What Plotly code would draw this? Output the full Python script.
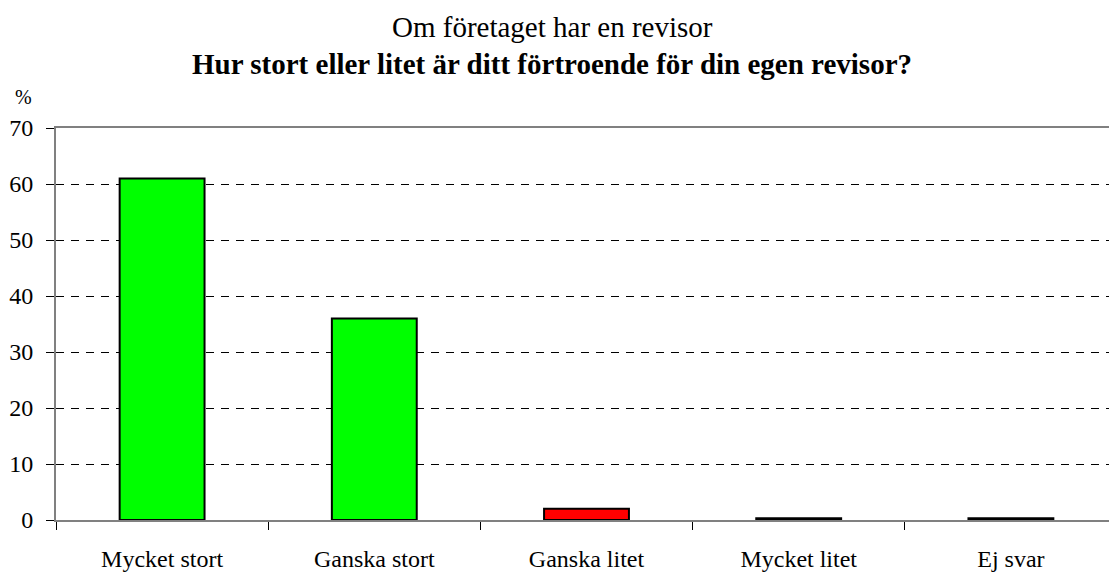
import plotly.graph_objects as go

categories = ["Mycket stort", "Ganska stort", "Ganska litet", "Mycket litet", "Ej svar"]
values = [61, 36, 2, 0.3, 0.3]
colors = ["#00ff00", "#00ff00", "#ff0000", "#ff0000", "#c0c0c0"]
yticks = [0, 10, 20, 30, 40, 50, 60, 70]

font_family = "Liberation Serif, Times New Roman, serif"

# page has an 8px body margin: compensate
W, H = 1109, 564
L, T, R, B = 48, 120, 0, 52
pw = W - L - R
ph = H - T - B


def px(x):
    return (x - 8 - L) / pw


def py(y):
    return (H - B - (y - 8)) / ph


fig = go.Figure(
    go.Bar(
        x=categories,
        y=values,
        marker=dict(color=colors, line=dict(color="black", width=2)),
        width=0.4,
    )
)

fig.update_layout(
    width=W,
    height=H,
    paper_bgcolor="white",
    plot_bgcolor="white",
    margin=dict(l=L, r=R, t=T, b=B, pad=0),
    showlegend=False,
    font=dict(family=font_family, size=24, color="black"),
    annotations=[
        dict(text="Om företaget har en revisor", x=px(552), y=py(27), xref="paper", yref="paper",
             xanchor="center", yanchor="middle", showarrow=False, font=dict(size=29)),
        dict(text="<b>Hur stort eller litet är ditt förtroende för din egen revisor?</b>",
             x=px(552), y=py(64), xref="paper", yref="paper", xanchor="center", yanchor="middle",
             showarrow=False, font=dict(size=29)),
        dict(text="%", x=px(23), y=py(97), xref="paper", yref="paper", xanchor="center",
             yanchor="middle", showarrow=False, font=dict(size=20)),
    ],
)

fig.update_yaxes(
    range=[0, 70],
    tickvals=yticks,
    ticktext=[str(v) for v in yticks],
    showgrid=True,
    gridcolor="black",
    griddash="8px,7px",
    gridwidth=1,
    showline=True,
    linecolor="#808080",
    linewidth=2,
    ticks="outside",
    ticklen=8,
    tickcolor="black",
    zeroline=False,
    ticklabelstandoff=8,
)
fig.update_xaxes(
    showline=True,
    linecolor="#808080",
    linewidth=2,
    mirror=True,
    ticks="outside",
    tickson="boundaries",
    ticklen=8,
    tickcolor="black",
    showgrid=False,
    ticklabelstandoff=16,
)

fig.write_html("out.html")
